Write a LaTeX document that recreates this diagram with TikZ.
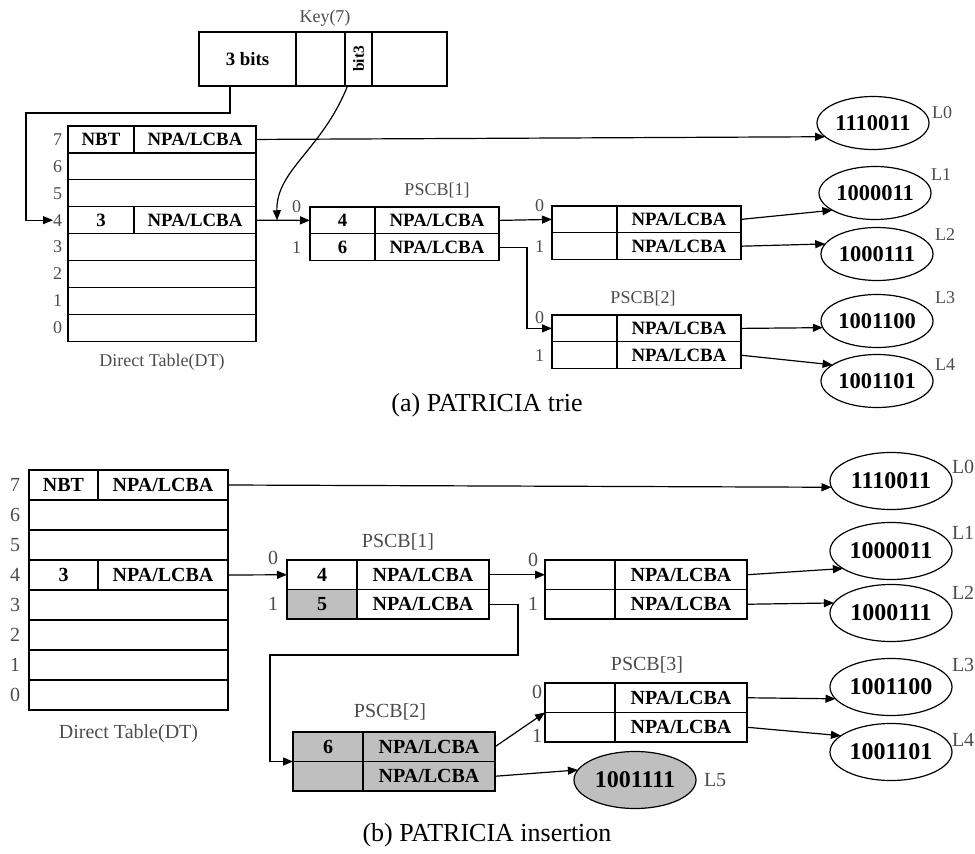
\documentclass[tikz,border=0pt]{standalone}
\usepackage{fontspec}
\setmainfont{Liberation Serif}
\usetikzlibrary{arrows.meta,shapes.geometric,positioning}
\definecolor{shade}{gray}{0.75}
\definecolor{lblgray}{gray}{0.3}

\begin{document}
\begin{tikzpicture}[
  x=1pt,y=-1pt,
  line width=1.2pt,
  every node/.style={outer sep=0pt,inner sep=0pt},
  bolda/.style={font=\fontsize{18.8}{19}\selectfont\bfseries},
  boldb/.style={font=\fontsize{20}{20}\selectfont\bfseries},
  txta/.style={font=\fontsize{18}{19}\selectfont,text=lblgray},
  txtb/.style={font=\fontsize{20}{21}\selectfont,text=lblgray},
  lefta/.style={draw,bolda,minimum width=65pt,minimum height=26.8pt},
  righta/.style={draw,bolda,minimum width=124pt,minimum height=26.8pt},
  rowa/.style={draw,minimum width=188pt,minimum height=26.9pt},
  leftb/.style={draw,boldb,minimum width=70pt,minimum height=29.5pt},
  rightb/.style={draw,boldb,minimum width=132pt,minimum height=29.5pt},
  rowb/.style={draw,minimum width=199pt,minimum height=30pt},
  leafa/.style={ellipse,draw,fill=white,minimum width=112pt,minimum height=53pt,
                font=\fontsize{22.5}{23}\selectfont\bfseries},
  leafb/.style={ellipse,draw,fill=white,minimum width=122pt,minimum height=57pt,
                font=\fontsize{24}{24}\selectfont\bfseries},
  arr/.style={-{Triangle[length=10pt,width=8pt]}},
]
  \useasboundingbox (0,0) rectangle (975,854);

  % ---------- (a) PATRICIA trie ----------
  \node[txta] (keytitle) at (325,18) {Key(7)};
  \node[lefta,minimum width=97pt,minimum height=54pt,anchor=north west] (key1) at (199,32) {3 bits};
  \node[lefta,minimum width=49pt,minimum height=54pt,right=0pt of key1] (key2) {};
  \node[lefta,minimum width=27pt,minimum height=54pt,right=0pt of key2] (key3)
    {\rotatebox{90}{\fontsize{15.5}{15}\selectfont bit3}};
  \node[lefta,minimum width=75pt,minimum height=54pt,right=0pt of key3] (key4) {};

  \foreach \r in {0,...,7}{
    \node[rowa,anchor=north west] (dta\r) at (68,{126+(7-\r)*26.9}) {};
    \node[txta,anchor=east] (dtal\r) at ([xshift=-6pt]dta\r.west) {\r};
  }
  \node[lefta,minimum width=66pt,anchor=west] (dta7l) at (dta7.west) {NBT};
  \node[righta,minimum width=122pt,right=0pt of dta7l] (dta7r) {NPA/LCBA};
  \node[lefta,minimum width=66pt,anchor=west] (dta4l) at (dta4.west) {3};
  \node[righta,minimum width=122pt,right=0pt of dta4l] (dta4r) {NPA/LCBA};
  \node[txta,below=13pt of dta0] (dtacap) {Direct Table(DT)};

  \node[txta] (p1atitle) at (437,190) {PSCB[1]};
  \node[lefta,anchor=north west] (p1a0l) at (310,207) {4};
  \node[righta,right=0pt of p1a0l] (p1a0r) {NPA/LCBA};
  \node[lefta,below=0pt of p1a0l] (p1a1l) {6};
  \node[righta,right=0pt of p1a1l] (p1a1r) {NPA/LCBA};
  \node[txta,anchor=east] (p1a0n) at ([xshift=-9pt]p1a0l.north west) {0};
  \node[txta,anchor=east] (p1a1n) at ([xshift=-9pt]p1a1l.west) {1};

  \node[lefta,anchor=north west] (sa0l) at (552,206) {};
  \node[righta,right=0pt of sa0l] (sa0r) {NPA/LCBA};
  \node[lefta,below=0pt of sa0l] (sa1l) {};
  \node[righta,right=0pt of sa1l] (sa1r) {NPA/LCBA};
  \node[txta,anchor=east] (sa0n) at ([xshift=-8pt]sa0l.north west) {0};
  \node[txta,anchor=east] (sa1n) at ([xshift=-8pt]sa1l.west) {1};

  \node[txta] (p2atitle) at (643,298) {PSCB[2]};
  \node[lefta,anchor=north west] (p2a0l) at (552,315) {};
  \node[righta,right=0pt of p2a0l] (p2a0r) {NPA/LCBA};
  \node[lefta,below=0pt of p2a0l] (p2a1l) {};
  \node[righta,right=0pt of p2a1l] (p2a1r) {NPA/LCBA};
  \node[txta,anchor=east] (p2a0n) at ([xshift=-8pt,yshift=-3pt]p2a0l.north west) {0};
  \node[txta,anchor=east] (p2a1n) at ([xshift=-8pt]p2a1l.west) {1};

  \node[leafa] (e0a) at (873,123) {1110011};
  \node[leafa] (e1a) at (875,193) {1000011};
  \node[leafa] (e2a) at (877,254) {1000111};
  \node[leafa] (e3a) at (877,321) {1001100};
  \node[leafa] (e4a) at (877,381) {1001101};
  \node[txta,anchor=west] (l0a) at ([shift={(3,-10)}]e0a.east) {L0};
  \node[txta,anchor=west] (l1a) at ([shift={(0,-18)}]e1a.east) {L1};
  \node[txta,anchor=west] (l2a) at ([shift={(2,-19)}]e2a.east) {L2};
  \node[txta,anchor=west] (l3a) at ([shift={(2,-23)}]e3a.east) {L3};
  \node[txta,anchor=west] (l4a) at ([shift={(2,-16)}]e4a.east) {L4};

  \coordinate (keybend) at (26,113);
  \draw[arr] ([xshift=-17.5pt]key1.south) |- (keybend) |- (dtal4.west);
  \draw[arr] (dta7r.east) -- (e0a.196);
  \draw[arr] (dta4r.east) -- coordinate[pos=0.39] (hit) (p1a0l.west);
  \draw[arr] ([xshift=-11pt]key3.south) .. controls (322,150) and (276,170) .. (hit);
  \draw[arr] (p1a0r.east) -- (sa0l.west);
  \draw[arr] (p1a1r.east) -- ++(28,0) |- (p2a0l.west);
  \draw[arr] (sa0r.east) -- (e1a.202);
  \draw[arr] (sa1r.east) -- (e2a.169);
  \draw[arr] (p2a0r.east) -- (e3a.187);
  \draw[arr] (p2a1r.east) -- (e4a.160);

  \node[font=\fontsize{26}{28}\selectfont] (capa) at (487,405) {(a) PATRICIA trie};

  % ---------- (b) PATRICIA insertion ----------
  \foreach \r in {0,...,7}{
    \node[rowb,anchor=north west] (dtb\r) at (29,{470+(7-\r)*30}) {};
    \node[txtb,anchor=east] (dtbl\r) at ([xshift=-9pt]dtb\r.west) {\r};
  }
  \node[leftb,minimum width=69pt,anchor=west] (dtb7l) at (dtb7.west) {NBT};
  \node[rightb,minimum width=130pt,right=0pt of dtb7l] (dtb7r) {NPA/LCBA};
  \node[leftb,minimum width=69pt,anchor=west] (dtb4l) at (dtb4.west) {3};
  \node[rightb,minimum width=130pt,right=0pt of dtb4l] (dtb4r) {NPA/LCBA};
  \node[txtb,below=15pt of dtb0] (dtbcap) {Direct Table(DT)};

  \node[txtb] (p1btitle) at (398,542) {PSCB[1]};
  \node[leftb,anchor=north west] (p1b0l) at (287,560) {4};
  \node[rightb,right=0pt of p1b0l] (p1b0r) {NPA/LCBA};
  \node[leftb,fill=shade,below=0pt of p1b0l] (p1b1l) {5};
  \node[rightb,right=0pt of p1b1l] (p1b1r) {NPA/LCBA};
  \node[txtb,anchor=east] (p1b0n) at ([xshift=-9pt,yshift=2pt]p1b0l.north west) {0};
  \node[txtb,anchor=east] (p1b1n) at ([xshift=-9pt]p1b1l.west) {1};

  \node[leftb,anchor=north west] (sb0l) at (545,560) {};
  \node[rightb,right=0pt of sb0l] (sb0r) {NPA/LCBA};
  \node[leftb,below=0pt of sb0l] (sb1l) {};
  \node[rightb,right=0pt of sb1l] (sb1r) {NPA/LCBA};
  \node[txtb,anchor=east] (sb0n) at ([xshift=-7pt]sb0l.north west) {0};
  \node[txtb,anchor=east] (sb1n) at ([xshift=-7pt]sb1l.west) {1};

  \node[txtb] (p3btitle) at (647,665) {PSCB[3]};
  \node[leftb,anchor=north west] (p3b0l) at (545,683) {};
  \node[rightb,right=0pt of p3b0l] (p3b0r) {NPA/LCBA};
  \node[leftb,below=0pt of p3b0l] (p3b1l) {};
  \node[rightb,right=0pt of p3b1l] (p3b1r) {NPA/LCBA};
  \node[txtb,anchor=east] (p3b0n) at ([xshift=-3pt,yshift=-9pt]p3b0l.north west) {0};
  \node[txtb,anchor=east] (p3b1n) at ([xshift=-3pt,yshift=-9pt]p3b1l.west) {1};

  \node[txtb] (p2btitle) at (390,712) {PSCB[2]};
  \node[leftb,fill=shade,anchor=north west] (p2b0l) at (293,732) {6};
  \node[rightb,fill=shade,right=0pt of p2b0l] (p2b0r) {NPA/LCBA};
  \node[leftb,fill=shade,below=0pt of p2b0l] (p2b1l) {};
  \node[rightb,fill=shade,right=0pt of p2b1l] (p2b1r) {NPA/LCBA};

  \node[leafb] (e0b) at (891,481) {1110011};
  \node[leafb] (e1b) at (891,551) {1000011};
  \node[leafb] (e2b) at (891,613) {1000111};
  \node[leafb] (e3b) at (891,687) {1001100};
  \node[leafb] (e4b) at (891,752) {1001101};
  \node[leafb,fill=shade] (e5b) at (635,780) {1001111};
  \node[txtb,anchor=west] (l0b) at ([shift={(0,-14)}]e0b.east) {L0};
  \node[txtb,anchor=west] (l1b) at ([shift={(0,-18)}]e1b.east) {L1};
  \node[txtb,anchor=west] (l2b) at ([shift={(0,-20)}]e2b.east) {L2};
  \node[txtb,anchor=west] (l3b) at ([shift={(0,-22)}]e3b.east) {L3};
  \node[txtb,anchor=west] (l4b) at ([shift={(0,-12)}]e4b.east) {L4};
  \node[txtb,anchor=west] (l5b) at ([shift={(8,0)}]e5b.east) {L5};

  \coordinate (bendb) at (270,655);
  \draw[arr] (dtb7r.east) -- (e0b.186);
  \draw[arr] (dtb4r.east) -- (p1b0l.west);
  \draw[arr] (p1b0r.east) -- (sb0l.west);
  \draw[arr] (p1b1r.east) -- ++(29,0) |- (bendb) |- (p2b0l.south west);
  \draw[arr] (p2b0r.east) -- (p3b0l.south west);
  \draw[arr] (p2b1r.east) -- (e5b.170);
  \draw[arr] (sb0r.east) -- (e1b.200);
  \draw[arr] (sb1r.east) -- (e2b.170);
  \draw[arr] (p3b0r.east) -- (e3b.192);
  \draw[arr] (p3b1r.east) -- (e4b.162);

  \node[font=\fontsize{26}{28}\selectfont] (capb) at (487,835) {(b) PATRICIA insertion};
\end{tikzpicture}
\end{document}
